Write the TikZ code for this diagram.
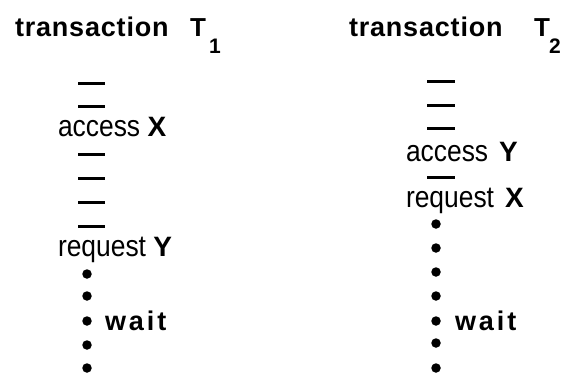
\documentclass[tikz,border=0pt]{standalone}
\usepackage{fontspec}
\setmainfont{Liberation Sans}
\newfontfamily\headfont{Liberation Sans}[LetterSpace=3]
\newfontfamily\waitfont{Liberation Sans}[LetterSpace=11]
\newfontfamily\opfont{Liberation Sans}[FakeStretch=0.88]
\begin{document}
\begin{tikzpicture}[x=1pt,y=-1pt,
  every node/.style={inner sep=0pt,outer sep=0pt,anchor=base west},
  title/.style={font=\headfont\bfseries\fontsize{27}{30}\selectfont},
  tname/.style={font=\bfseries\fontsize{26}{30}\selectfont},
  tsub/.style={font=\bfseries\fontsize{21}{24}\selectfont},
  op/.style={font=\opfont\fontsize{30}{34}\selectfont},
  waitlbl/.style={font=\waitfont\bfseries\fontsize{27}{30}\selectfont},
  bar/.style={line width=3pt},
  dot/.style={circle,fill=black,minimum size=9.5pt,inner sep=0pt,anchor=center}]
\newcommand{\obj}[1]{{\fontspec{Liberation Sans}\bfseries\fontsize{28}{32}\selectfont #1}}
\useasboundingbox (0,0) rectangle (562,372);

% ---- transaction T1 ----
\node[title] (h1) at (15,36) {transaction};
\node[tname] (t1) at (190,36) {T};
\node[tsub]  (s1) at (209,53) {1};

\foreach \y in {83,106,154,178,202,226}
  \draw[bar] (78,\y) -- (105,\y);
\node[op] (a1) at (58,136) {access \obj{X}};
\node[op] (r1) at (58,256) {request \obj{Y}};
\foreach \y [count=\i] in {274,296,321,345,368}
  \node[dot] (d1-\i) at (87,\y) {};
\node[waitlbl] (w1) at (105,330) {wait};

% ---- transaction T2 ----
\node[title] (h2) at (349,36) {transaction};
\node[tname] (t2) at (534,36) {T};
\node[tsub]  (s2) at (549,53) {2};

\foreach \y in {81,105,128,177}
  \draw[bar] (427,\y) -- (455,\y);
\node[op] (a2) at (406,161) {access\hspace{11pt}\obj{Y}};
\node[op] (r2) at (406,207) {request\hspace{11pt}\obj{X}};
\foreach \y [count=\i] in {224,248,272,296,321,343,368}
  \node[dot] (d2-\i) at (436,\y) {};
\node[waitlbl] (w2) at (455,330) {wait};
\end{tikzpicture}
\end{document}
